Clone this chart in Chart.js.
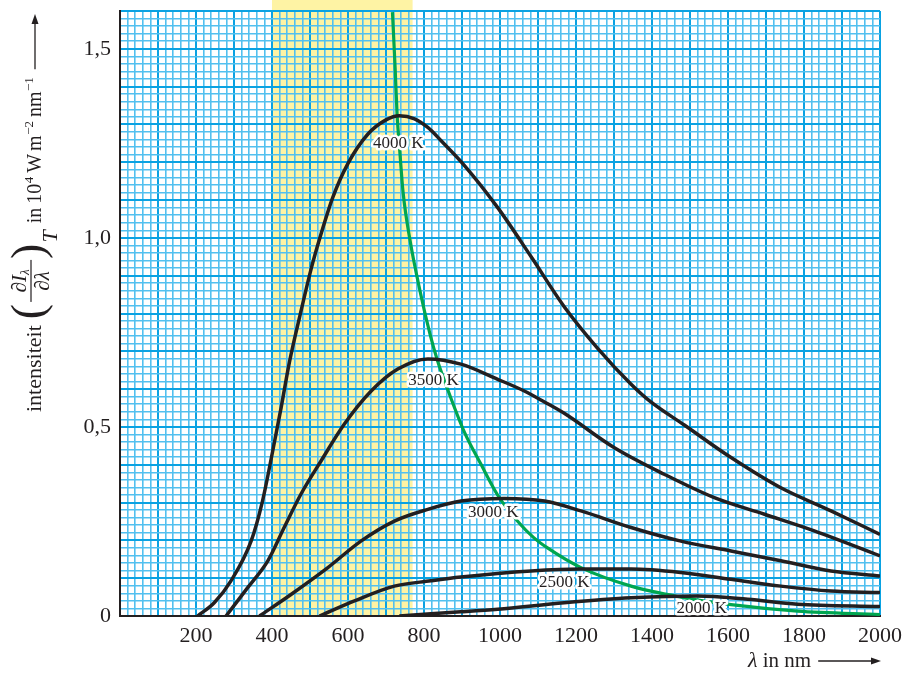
<!DOCTYPE html>
<html>
<head>
<meta charset="utf-8">
<script src="https://cdn.jsdelivr.net/npm/chart.js@4.4.0/dist/chart.umd.min.js"></script>
<style>
    html, body { margin: 0; padding: 0; background: #fff; }
    #wrap { width: 905px; height: 674px; }
</style>
</head>
<body>
<div id="wrap"><canvas id="grafica" width="905" height="674"></canvas></div>
<script>
const lambda4000 = [204, 248, 292, 345, 375, 402, 424, 446, 476, 503, 529, 560, 599, 652, 700, 735, 775, 810, 845, 906, 994, 1082, 1169, 1257, 1345, 1397, 1485, 1608, 1739, 1871, 2000];
const waarde4000 = [0, 0.035, 0.093, 0.198, 0.304, 0.437, 0.551, 0.672, 0.805, 0.918, 1.010, 1.107, 1.195, 1.274, 1.312, 1.323, 1.315, 1.292, 1.257, 1.192, 1.080, 0.950, 0.818, 0.708, 0.613, 0.566, 0.505, 0.419, 0.339, 0.278, 0.216];

const lambda3500 = [279, 336, 389, 432, 476, 529, 590, 661, 731, 810, 897, 994, 1064, 1117, 1169, 1301, 1432, 1564, 1696, 1827, 2000];
const waarde3500 = [0, 0.075, 0.146, 0.234, 0.322, 0.410, 0.507, 0.595, 0.653, 0.680, 0.666, 0.626, 0.595, 0.566, 0.536, 0.445, 0.375, 0.313, 0.269, 0.225, 0.159];

const lambda3000 = [367, 450, 547, 634, 722, 810, 897, 1011, 1117, 1213, 1345, 1476, 1608, 1739, 1871, 2000];
const waarde3000 = [0, 0.057, 0.128, 0.198, 0.251, 0.282, 0.304, 0.311, 0.304, 0.278, 0.234, 0.198, 0.172, 0.146, 0.119, 0.106];

const lambda2500 = [525, 617, 722, 818, 897, 1082, 1213, 1345, 1476, 1608, 1739, 1871, 2000];
const waarde2500 = [0, 0.040, 0.079, 0.093, 0.103, 0.119, 0.124, 0.124, 0.115, 0.097, 0.079, 0.066, 0.062];

const lambda2000 = [735, 818, 897, 994, 1169, 1345, 1520, 1652, 1783, 2000];
const waarde2000 = [0, 0.006, 0.011, 0.018, 0.035, 0.048, 0.053, 0.044, 0.031, 0.025];

// lijn door de maxima (groen)
const lambdaMax = [717, 724, 729, 737, 745, 763, 789, 816, 835, 862, 906, 950, 995, 1047, 1088, 1125, 1213, 1345, 1476, 1608, 1783, 2000];
const waardeMax = [1.597, 1.45, 1.33, 1.22, 1.12, 0.995, 0.862, 0.745, 0.677, 0.600, 0.487, 0.401, 0.318, 0.250, 0.208, 0.180, 0.128, 0.079, 0.050, 0.030, 0.013, 0.004];

// zichtbaar gebied (nm)
const zichtbaar = [400, 770];

// labels bij de krommen
const temperaturen = ['4000 K', '3500 K', '3000 K', '2500 K', '2000 K'];
const labelLambda = [732, 825, 982, 1169, 1531];
const labelWaarde = [1.25, 0.622, 0.274, 0.089, 0.0185];

// assen
const xLabels = [200, 400, 600, 800, 1000, 1200, 1400, 1600, 1800, 2000];
const yLabels = ['0', '0,5', '1,0', '1,5'];

const inkt = '#231f20';
const groen = '#00a650';
const geel = '#fef3a4';
const serif = '"Liberation Serif", "Times New Roman", serif';

function punten(xs, ys) {
    return xs.map((x, i) => ({ x: x, y: ys[i] }));
}

function veelvoud(v, stap) {
    return Math.abs(v / stap - Math.round(v / stap)) < 1e-6;
}

const bandGeel = {
    id: 'bandGeel',
    beforeDraw(chart) {
        const { ctx, scales: { x, y } } = chart;
        const x0 = x.getPixelForValue(zichtbaar[0]);
        const x1 = x.getPixelForValue(zichtbaar[1]);
        ctx.save();
        ctx.fillStyle = geel;
        ctx.fillRect(x0, 0, x1 - x0, y.getPixelForValue(0));
        ctx.restore();
    }
};

const krommeLabels = {
    id: 'krommeLabels',
    afterDatasetsDraw(chart) {
        const { ctx, scales: { x, y } } = chart;
        ctx.save();
        ctx.font = '17px ' + serif;
        ctx.textAlign = 'center';
        ctx.textBaseline = 'middle';
        ctx.lineJoin = 'round';
        for (let i = 0; i < temperaturen.length; i++) {
            const px = x.getPixelForValue(labelLambda[i]);
            const py = y.getPixelForValue(labelWaarde[i]);
            ctx.strokeStyle = '#fff';
            ctx.lineWidth = 5;
            ctx.strokeText(temperaturen[i], px, py);
            ctx.fillStyle = inkt;
            ctx.fillText(temperaturen[i], px, py);
        }
        ctx.restore();
    }
};

function pijl(ctx, x0, y0, x1, y1) {
    const hoek = Math.atan2(y1 - y0, x1 - x0);
    const c = Math.cos(hoek), s = Math.sin(hoek);
    ctx.beginPath();
    ctx.moveTo(x0, y0);
    ctx.lineTo(x1 - 6 * c, y1 - 6 * s);
    ctx.stroke();
    ctx.beginPath();
    ctx.moveTo(x1, y1);
    ctx.lineTo(x1 - 10 * c + 3.5 * s, y1 - 10 * s - 3.5 * c);
    ctx.lineTo(x1 - 10 * c - 3.5 * s, y1 - 10 * s + 3.5 * c);
    ctx.closePath();
    ctx.fill();
}

const asTitels = {
    id: 'asTitels',
    afterDraw(chart) {
        const ctx = chart.ctx;
        ctx.save();
        ctx.fillStyle = inkt;
        ctx.strokeStyle = inkt;
        ctx.lineWidth = 1.3;

        // x-as titel
        ctx.textBaseline = 'alphabetic';
        ctx.textAlign = 'left';
        ctx.font = 'italic 22px ' + serif;
        let xt = 748;
        ctx.fillText('λ', xt, 667);
        xt += ctx.measureText('λ').width;
        ctx.font = '21px ' + serif;
        ctx.fillText(' in nm', xt, 667);
        xt += ctx.measureText(' in nm').width;
        pijl(ctx, xt + 7, 661, 881, 661);

        // y-as titel (gedraaid, leest van onder naar boven)
        ctx.translate(41, 412);
        ctx.rotate(-Math.PI / 2);
        let u = 0;
        const zet = (tekst, font, v, marge) => {
            u += marge || 0;
            ctx.font = font;
            ctx.fillText(tekst, u, v);
            u += ctx.measureText(tekst).width;
        };
        zet('intensiteit', '22px ' + serif, 0);
        zet('(', '46px ' + serif, 1.5, 6);
        // breuk dI/dl
        const start = u + 2;
        const wBreuk = 42;
        ctx.font = '21px ' + serif;
        const wD = ctx.measureText('∂').width;
        ctx.font = 'italic 21px ' + serif;
        const wI = ctx.measureText('I').width;
        const wL = ctx.measureText('λ').width;
        ctx.font = 'italic 13px ' + serif;
        const wLs = ctx.measureText('λ').width;
        let ut = start + (wBreuk - (wD + wI + wLs)) / 2;
        ctx.font = '21px ' + serif;
        ctx.fillText('∂', ut, -15);
        ut += wD;
        ctx.font = 'italic 21px ' + serif;
        ctx.fillText('I', ut, -15);
        ut += wI;
        ctx.font = 'italic 13px ' + serif;
        ctx.fillText('λ', ut, -12);
        let un = start + (wBreuk - (wD + wL)) / 2;
        ctx.font = '21px ' + serif;
        ctx.fillText('∂', un, 8);
        un += wD;
        ctx.font = 'italic 21px ' + serif;
        ctx.fillText('λ', un, 8);
        ctx.fillRect(start, -10.6, wBreuk, 1.2);
        u = start + wBreuk + 1;
        zet(')', '46px ' + serif, 1.5);
        zet('T', 'italic 22px ' + serif, 16, 1);
        zet('in', '20px ' + serif, 0, 7);
        zet('10', '20px ' + serif, 0, 4);
        zet('4', '13px ' + serif, -8, 0.5);
        zet('W', '20px ' + serif, 0, 4);
        zet('m', '20px ' + serif, 0, 3);
        zet('−2', '13px ' + serif, -8, 0.5);
        zet('nm', '20px ' + serif, 0, 4);
        zet('−1', '13px ' + serif, -8, 0.5);
        pijl(ctx, u + 8, -6, 398, -6);
        ctx.restore();
    }
};

function gridOpties(grootStap) {
    return {
        color: c => (c.tick && veelvoud(c.tick.value, grootStap)) ? '#0aa2e2' : '#52c0ef',
        lineWidth: c => (c.tick && veelvoud(c.tick.value, grootStap)) ? 2 : 1.6,
        drawTicks: false
    };
}

const lijn = (data, kleur, dikte) => ({
    data: data,
    borderColor: kleur,
    borderWidth: dikte,
    pointRadius: 0,
    fill: false,
    cubicInterpolationMode: 'monotone'
});

const grafiek = new Chart(document.getElementById('grafica'), {
    type: 'line',
    data: {
        datasets: [
            lijn(punten(lambda4000, waarde4000), inkt, 3.5),
            lijn(punten(lambda3500, waarde3500), inkt, 3.5),
            lijn(punten(lambda3000, waarde3000), inkt, 3.5),
            lijn(punten(lambda2500, waarde2500), inkt, 3.5),
            lijn(punten(lambda2000, waarde2000), inkt, 3.5),
            lijn(punten(lambdaMax, waardeMax), groen, 3.2)
        ]
    },
    options: {
        responsive: false,
        animation: false,
        layout: { padding: { left: 0, right: 25, top: 11, bottom: 0 } },
        plugins: { legend: { display: false }, tooltip: { enabled: false } },
        scales: {
            x: {
                type: 'linear',
                min: 0,
                max: 2000,
                afterFit: s => { s.height = 58; s.paddingLeft = 0; s.paddingRight = 0; },
                grid: gridOpties(100),
                border: { color: inkt, width: 2 },
                ticks: {
                    stepSize: 20,
                    autoSkip: false,
                    maxRotation: 0,
                    minRotation: 0,
                    padding: 7,
                    color: inkt,
                    font: { family: serif, size: 22 },
                    callback: v => xLabels.includes(Math.round(v)) && veelvoud(v, 200) ? String(Math.round(v)) : ''
                }
            },
            y: {
                type: 'linear',
                min: 0,
                max: 1.6,
                afterFit: s => { s.width = 120; s.paddingTop = 0; s.paddingBottom = 0; },
                grid: gridOpties(0.1),
                border: { color: inkt, width: 2 },
                ticks: {
                    stepSize: 0.02,
                    autoSkip: false,
                    padding: 9,
                    color: inkt,
                    font: { family: serif, size: 22 },
                    callback: v => veelvoud(v, 0.5) ? yLabels[Math.round(v / 0.5)] : ''
                }
            }
        }
    },
    plugins: [bandGeel, krommeLabels, asTitels]
});
</script>
</body>
</html>
